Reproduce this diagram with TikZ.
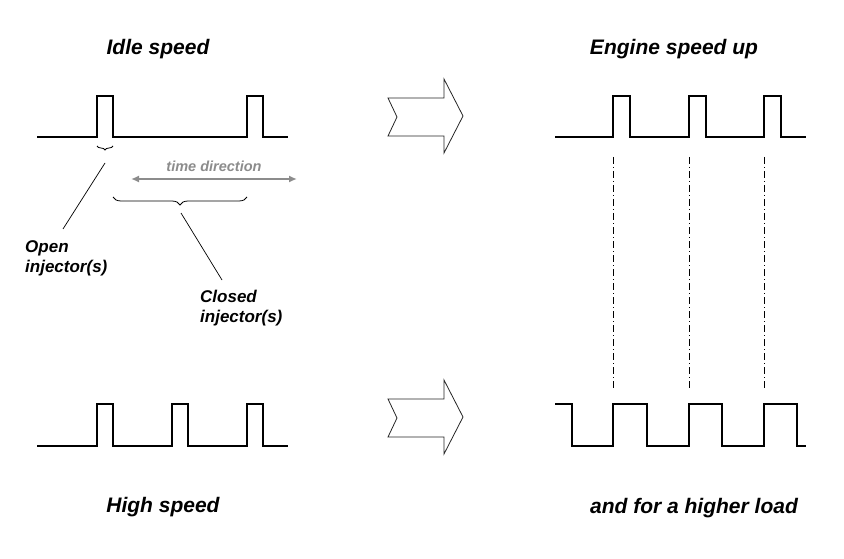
\documentclass[tikz,border=0pt]{standalone}
\usepackage{fontspec}
\setmainfont{Liberation Sans}
\usetikzlibrary{decorations.pathreplacing,arrows.meta}
\definecolor{timegray}{HTML}{8C8C8C}
\tikzset{
  wave/.style={line width=1.4pt, line join=miter},
  title/.style={font=\fontsize{21}{24}\selectfont\bfseries\itshape, anchor=base, inner sep=0pt},
  lbl/.style={font=\fontsize{17}{20}\selectfont\bfseries\itshape, anchor=base west, align=left, inner sep=0pt},
  pointer/.style={line width=0.7pt},
  bracebig/.style={decorate, decoration={brace, mirror, amplitude=#1}, line width=0.8pt},
  bigarrow/.style={draw=black!85, line width=0.8pt, fill=white, line join=miter},
  guide/.style={line width=0.7pt, dash pattern=on 7pt off 3pt on 1pt off 3pt}
}
\begin{document}
\begin{tikzpicture}[x=1pt,y=-1pt]
\useasboundingbox (0,0) rectangle (844,559);
% titles
\node[title] (t1) at (158,55) {Idle speed};
\node[title] (t2) at (674,55) {Engine speed up};
\node[title] (t3) at (163,512) {High speed};
\node[title] (t4) at (694,513) {and for a higher load};
% idle waveform
\draw[wave] (37,137) -- (97,137) -- (97,96) -- (113,96) -- (113,137) -- (247,137) -- (247,96) -- (263,96) -- (263,137) -- (288,137);
% high speed waveform
\draw[wave] (37,446) -- (97,446) -- (97,404) -- (113,404) -- (113,446) -- (172,446) -- (172,404) -- (188,404) -- (188,446) -- (247,446) -- (247,404) -- (263,404) -- (263,446) -- (288,446);
% engine speed up waveform
\draw[wave] (555,137) -- (613,137) -- (613,96) -- (630,96) -- (630,137) -- (689,137) -- (689,96) -- (706,96) -- (706,137) -- (764,137) -- (764,96) -- (781,96) -- (781,137) -- (806,137);
% higher load waveform
\draw[wave] (555,404) -- (572,404) -- (572,446) -- (613,446) -- (613,404) -- (647,404) -- (647,446) -- (689,446) -- (689,404) -- (722,404) -- (722,446) -- (764,446) -- (764,404) -- (797,404) -- (797,446) -- (806,446);
% guides
\foreach \x in {613,689,764} \draw[guide] (\x,157) -- (\x,390);
% braces
\draw[bracebig=4pt] (97,146) -- (113,146);
\draw[bracebig=8pt] (113,197) -- (247,197);
% time direction
\node[font=\fontsize{14.5}{16}\selectfont\bfseries\itshape, text=timegray, anchor=base, inner sep=0pt] (td) at (214,172) {time direction};
\coordinate (tdl) at (131,179);
\coordinate (tdr) at (297,179);
\draw[timegray, line width=2pt, {Latex[length=8pt,width=7pt]}-{Latex[length=8pt,width=7pt]}] (tdl) -- (tdr);
% labels
\node[lbl] (open) at (25,272) {Open\\injector(s)};
\node[lbl] (closed) at (200,322) {Closed\\injector(s)};
\coordinate (ob) at (105,163);
\coordinate (oe) at (63,229);
\coordinate (cb) at (181,213);
\coordinate (ce) at (222,280);
\draw[pointer] (ob) -- (oe);
\draw[pointer] (cb) -- (ce);
% block arrows
\foreach \dy in {0,301} {
  \draw[bigarrow] (388,98+\dy) -- (444,98+\dy) -- (444,79+\dy) -- (463,116+\dy) -- (444,153+\dy) -- (444,136+\dy) -- (388,136+\dy) -- (397,117+\dy) -- cycle;
}
\end{tikzpicture}
\end{document}
